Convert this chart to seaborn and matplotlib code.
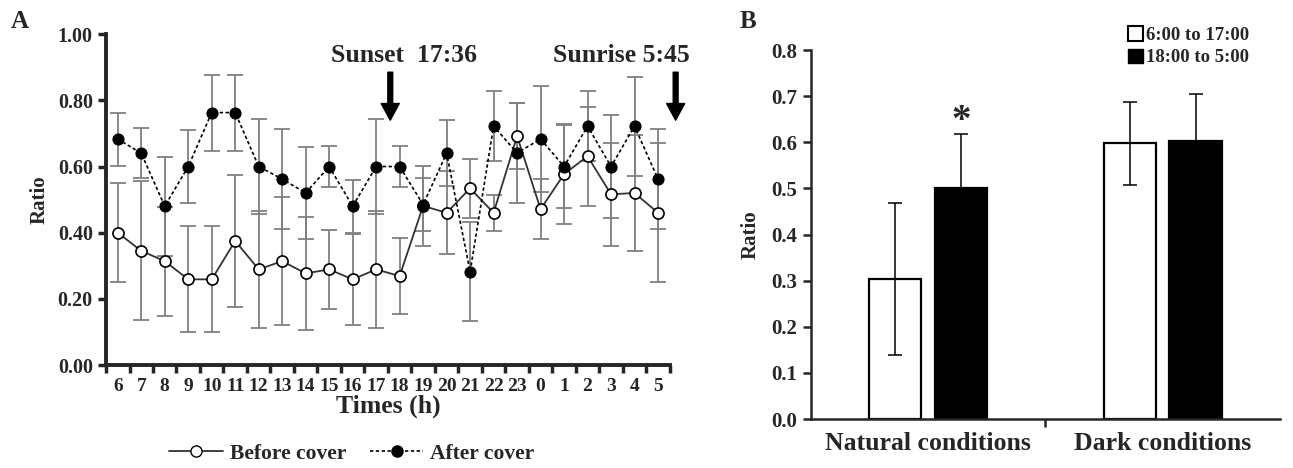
import numpy as np
import pandas as pd
import matplotlib
matplotlib.use("Agg")
import matplotlib.pyplot as plt
import seaborn as sns
from matplotlib.lines import Line2D
from matplotlib.patches import Patch

# ---- Panel A data (ratio per hour, mean +/- error) ----
hours = ['6', '7', '8', '9', '10', '11', '12', '13', '14', '15', '16', '17',
         '18', '19', '20', '21', '22', '23', '0', '1', '2', '3', '4', '5']
before = [0.40, 0.345, 0.314, 0.259, 0.259, 0.375, 0.289, 0.314, 0.277, 0.289, 0.259, 0.289,
          0.269, 0.481, 0.46, 0.534, 0.46, 0.692, 0.471, 0.577, 0.631, 0.516, 0.52, 0.46]
before_err = [0.15, 0.21, 0.165, 0.16, 0.16, 0.20, 0.176, 0.193, 0.17, 0.12, 0.138, 0.176,
              0.115, 0.12, 0.125, 0.09, 0.055, 0.10, 0.09, 0.15, 0.15, 0.155, 0.175, 0.21]
after = [0.683, 0.64, 0.48, 0.60, 0.763, 0.763, 0.60, 0.562, 0.52, 0.60, 0.48, 0.60,
         0.60, 0.485, 0.64, 0.282, 0.722, 0.641, 0.683, 0.60, 0.722, 0.60, 0.722, 0.562]
after_err = [0.08, 0.075, 0.15, 0.11, 0.115, 0.115, 0.145, 0.15, 0.14, 0.063, 0.08, 0.145,
             0.063, 0.08, 0.10, 0.15, 0.105, 0.15, 0.16, 0.125, 0.105, 0.155, 0.15, 0.15]

# ---- Panel B data ----
conditions = ['Natural conditions', 'Dark conditions']
periods = ['6:00 to 17:00', '18:00 to 5:00']
day_ratio = [0.303, 0.598]
night_ratio = [0.50, 0.602]
day_err = [0.165, 0.09]
night_err = [0.118, 0.103]

sns.set_style("ticks")
plt.rcParams['font.family'] = ['Liberation Serif', 'DejaVu Serif']
plt.rcParams['font.weight'] = 'bold'
plt.rcParams['axes.labelweight'] = 'bold'

fig = plt.figure(figsize=(12.93, 4.68), dpi=100)
axA = fig.add_axes([0.082, 0.220, 0.436, 0.707])
axB = fig.add_axes([0.627, 0.1047, 0.363, 0.7883])

# ---------------- Panel A ----------------
pos = np.arange(len(hours))
axA.errorbar(pos, before, yerr=before_err, fmt='none', ecolor='#808080',
             elinewidth=1.3, capsize=6, capthick=1.3, zorder=1)
axA.errorbar(pos, after, yerr=after_err, fmt='none', ecolor='#808080',
             elinewidth=1.3, capsize=6, capthick=1.3, zorder=1)
sns.lineplot(x=pos, y=before, ax=axA, color='#333333', linewidth=1.3,
             marker='o', markersize=8, markerfacecolor='white',
             markeredgecolor='black', markeredgewidth=1.2, zorder=3)
sns.lineplot(x=pos, y=after, ax=axA, color='black', linewidth=1.2,
             linestyle=(0, (2, 1.5)), marker='o', markersize=8,
             markerfacecolor='black', markeredgecolor='black', zorder=4)

axA.set_xlim(-0.5, len(hours) - 0.5)
axA.set_ylim(0, 1.0)
axA.set_xticks(pos)
axA.set_xticklabels(hours, fontsize=14)
axA.set_xticks(np.arange(-0.5, len(hours)), minor=True)
axA.tick_params(axis='x', which='major', length=0, pad=9)
axA.tick_params(axis='x', which='minor', length=6, width=2.5, direction='out')
axA.set_yticks(np.arange(0, 1.01, 0.2))
axA.set_yticklabels([f"{v:.2f}" for v in np.arange(0, 1.01, 0.2)], fontsize=14.5)
axA.tick_params(axis='y', length=6, width=2.5, direction='out')
for s in ['top', 'right']:
    axA.spines[s].set_visible(False)
for s in ['left', 'bottom']:
    axA.spines[s].set_linewidth(2.8)
axA.set_xlabel('Times (h)', fontsize=18.5, labelpad=0)
axA.set_ylabel('Ratio', fontsize=15, labelpad=6)

# sunset / sunrise arrows
axA.text(12.2, 0.937, 'Sunset  17:36', ha='center', va='center', fontsize=18.5)
axA.text(21.45, 0.937, 'Sunrise 5:45', ha='center', va='center', fontsize=18.5)
for xa in [11.6, 23.75]:
    axA.annotate('', xy=(xa, 0.74), xytext=(xa, 0.885), annotation_clip=False,
                 arrowprops=dict(facecolor='black', edgecolor='black', width=3.5,
                                 headwidth=13, headlength=12, shrink=0))

handlesA = [Line2D([], [], color='#333333', lw=1.3, marker='o', markersize=8,
                   markerfacecolor='white', markeredgecolor='black'),
            Line2D([], [], color='black', lw=1.2, linestyle=(0, (2, 1.5)), marker='o',
                   markersize=8, markerfacecolor='black', markeredgecolor='black')]
fig.legend(handlesA, ['Before cover', 'After cover'], loc='center',
           bbox_to_anchor=(0.272, 0.03), ncol=2, frameon=False, fontsize=15.5,
           handlelength=2.5, columnspacing=1.1, handletextpad=0.3)

fig.text(0.008, 0.953, 'A', fontsize=18, ha='left', va='center')
fig.text(0.572, 0.953, 'B', fontsize=18, ha='left', va='center')

# ---------------- Panel B ----------------
df = pd.DataFrame({
    'condition': conditions * 2,
    'period': [periods[0]] * 2 + [periods[1]] * 2,
    'ratio': day_ratio + night_ratio,
})
sns.barplot(data=df, x='condition', y='ratio', hue='period', hue_order=periods,
            palette=['white', 'black'], edgecolor='black', linewidth=1.6,
            width=0.56, gap=0.2, errorbar=None, legend=False, ax=axB)

bars = sorted([p for p in axB.patches], key=lambda p: p.get_x())
errs = [day_err[0], night_err[0], day_err[1], night_err[1]]
for p, e in zip(bars, errs):
    xc = p.get_x() + p.get_width() / 2
    axB.errorbar(xc, p.get_height(), yerr=e, fmt='none', ecolor='black',
                 elinewidth=1.1, capsize=5, capthick=1.1, zorder=5)

axB.text(bars[1].get_x() + bars[1].get_width() / 2, 0.605, '*', ha='center',
         va='bottom', fontsize=28)

axB.set_xlim(-0.5, 1.5)
axB.set_ylim(0, 0.8)
axB.set_yticks(np.arange(0, 0.81, 0.1))
axB.set_yticklabels([f"{v:.1f}" for v in np.arange(0, 0.81, 0.1)], fontsize=15)
axB.tick_params(axis='y', length=6, width=1.8, direction='out')
axB.set_xticks([0, 1])
axB.set_xticklabels(conditions, fontsize=18.5)
axB.set_xticks([0.5], minor=True)
axB.tick_params(axis='x', which='major', length=0, pad=9)
axB.tick_params(axis='x', which='minor', length=6, width=1.8, direction='out')
for s in ['top', 'right']:
    axB.spines[s].set_visible(False)
for s in ['left', 'bottom']:
    axB.spines[s].set_linewidth(1.8)
axB.set_xlabel('')
axB.set_ylabel('Ratio', fontsize=15, labelpad=8)

handlesB = [Patch(facecolor='white', edgecolor='black', linewidth=1.5),
            Patch(facecolor='black', edgecolor='black')]
axB.legend(handlesB, periods, loc='upper right', bbox_to_anchor=(0.955, 1.09),
           frameon=False, fontsize=13.5, handlelength=0.8, handleheight=0.8,
           handletextpad=0.2, labelspacing=0.25, borderpad=0)

fig.savefig('out.png', dpi=100)
